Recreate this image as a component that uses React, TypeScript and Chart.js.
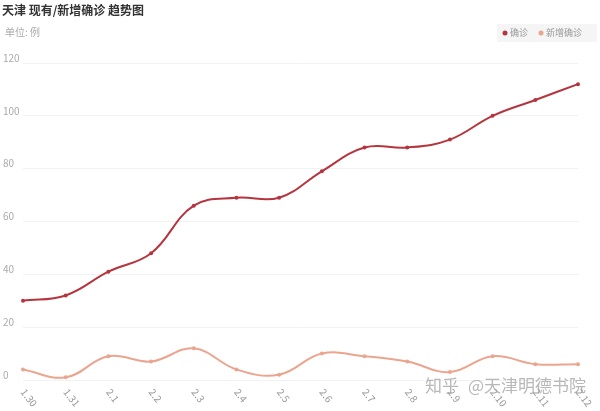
import React, { useEffect, useRef } from "react";
import { Chart, registerables } from "chart.js";

Chart.register(...registerables);

const categories = ["1.30", "1.31", "2.1", "2.2", "2.3", "2.4", "2.5", "2.6", "2.7", "2.8", "2.9", "2.10", "2.11", "2.12"];
const confirmed = [30, 32, 41, 48, 66, 69, 69, 79, 88, 88, 91, 100, 106, 112];
const newConfirmed = [4, 1, 9, 7, 12, 4, 2, 10, 9, 7, 3, 9, 6, 6];
const seriesNames = ["确诊", "新增确诊"];
const seriesColors = ["#b5353f", "#eba58f"];
const titleText = "天津 现有/新增确诊 趋势图";
const unitText = "单位: 例";
const watermark = ["知乎", "@天津明德书院"];

const FONT = '"Noto Sans CJK SC", "Noto Sans", sans-serif';

const decorPlugin = {
  id: "decor",
  beforeDraw(chart: any) {
    const ctx = chart.ctx;
    ctx.save();
    // title
    ctx.fillStyle = "#333";
    ctx.font = `bold 12px ${FONT}`;
    ctx.textAlign = "left";
    ctx.textBaseline = "middle";
    ctx.fillText(titleText, 2, 10);
    // unit
    ctx.fillStyle = "#aaa";
    ctx.font = `10px ${FONT}`;
    ctx.fillText(unitText, 5, 32);
    // legend background
    ctx.fillStyle = "#f5f5f5";
    ctx.fillRect(497, 24, 100, 18);
    ctx.font = `9px ${FONT}`;
    let x = 505;
    chart.data.datasets.forEach((ds: any) => {
      ctx.fillStyle = ds.borderColor;
      ctx.beginPath();
      ctx.arc(x, 33, 2.5, 0, Math.PI * 2);
      ctx.fill();
      ctx.fillStyle = "#999";
      ctx.fillText(ds.label, x + 5, 33);
      x += 5 + ctx.measureText(ds.label).width + 13;
    });
    ctx.restore();
  },
  afterDraw(chart: any) {
    const ctx = chart.ctx;
    const xs = chart.scales.x;
    ctx.save();
    ctx.fillStyle = "#999";
    ctx.font = `10px ${FONT}`;
    ctx.textAlign = "left";
    ctx.textBaseline = "middle";
    chart.data.labels.forEach((lab: string, i: number) => {
      const px = xs.getPixelForValue(i);
      ctx.save();
      ctx.translate(px, 390);
      ctx.rotate((52 * Math.PI) / 180);
      ctx.fillText(lab, 0, 0);
      ctx.restore();
    });
    // watermark
    ctx.fillStyle = "rgba(160,160,160,0.75)";
    ctx.font = `17px ${FONT}`;
    ctx.fillText(watermark[0], 425, 386);
    ctx.fillText(watermark[1], 468, 386);
    ctx.restore();
  },
};

export default function App() {
  const ref = useRef<HTMLCanvasElement>(null);
  useEffect(() => {
    document.body.style.margin = "0";
    const chart = new Chart(ref.current!, {
      type: "line",
      data: {
        labels: categories,
        datasets: [
          {
            label: seriesNames[0],
            data: confirmed,
            borderColor: seriesColors[0],
            backgroundColor: seriesColors[0],
            borderWidth: 2,
            pointRadius: 2,
            pointBorderWidth: 0,
            tension: 0.4,
          },
          {
            label: seriesNames[1],
            data: newConfirmed,
            borderColor: seriesColors[1],
            backgroundColor: seriesColors[1],
            borderWidth: 2,
            pointRadius: 2,
            pointBorderWidth: 0,
            tension: 0.4,
          },
        ],
      },
      options: {
        animation: false,
        responsive: false,
        devicePixelRatio: 1,
        layout: { padding: { top: 63, left: 3, right: 22, bottom: 31 } },
        plugins: { legend: { display: false }, title: { display: false }, tooltip: { enabled: false } },
        scales: {
          x: {
            display: true,
            ticks: { display: false },
            grid: { display: false, drawTicks: false },
            border: { display: false },
            afterFit: (s: any) => { s.height = 0; },
          },
          y: {
            min: 0,
            max: 120,
            ticks: {
              stepSize: 20,
              color: "#aaa",
              font: { size: 10, family: FONT },
              crossAlign: "far",
              labelOffset: -5,
              padding: 0,
            },
            grid: { color: "#f2f2f2", drawTicks: false, lineWidth: 1 },
            border: { display: false },
            afterFit: (s: any) => { s.width = 20; },
          },
        },
      },
      plugins: [decorPlugin],
    });
    return () => chart.destroy();
  }, []);
  return (
    <div style={{ position: "absolute", left: 0, top: 0 }}>
      <canvas ref={ref} width={600} height={411} style={{ display: "block" }} />
    </div>
  );
}
